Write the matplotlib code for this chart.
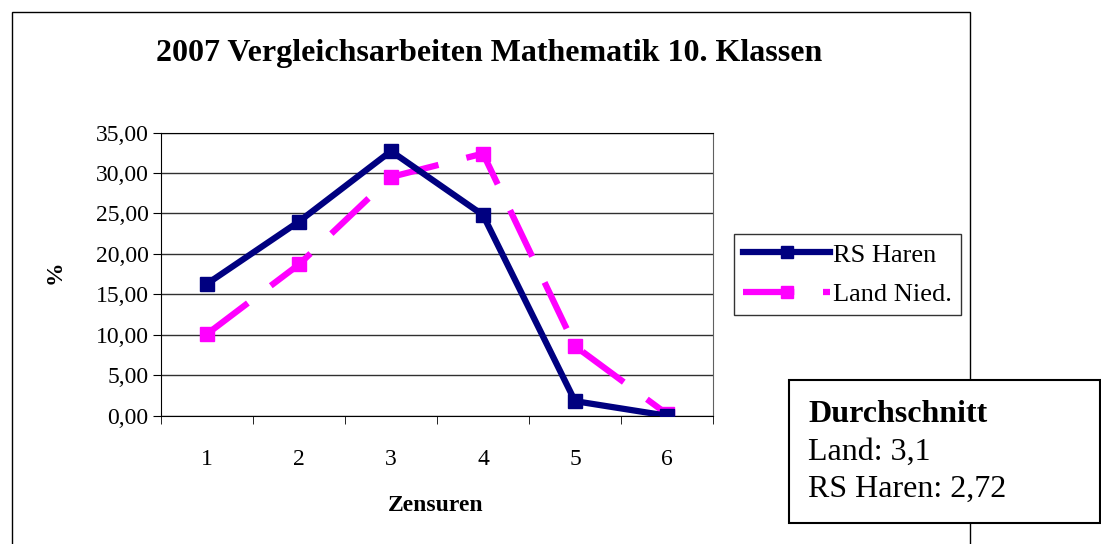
import matplotlib
matplotlib.use("Agg")
import matplotlib.pyplot as plt
from matplotlib.patches import Rectangle
from matplotlib.ticker import FuncFormatter

plt.rcParams["font.family"] = ["Liberation Serif", "DejaVu Serif"]

grades = [1, 2, 3, 4, 5, 6]
rs_haren = [16.3, 24.0, 32.7, 24.8, 1.8, 0.0]
land_nied = [10.1, 18.7, 29.5, 32.4, 8.6, 0.2]
yticks = [0, 5, 10, 15, 20, 25, 30, 35]

fig = plt.figure(figsize=(11.01, 5.44), dpi=100)

# outer chart frame
fig.patches.append(Rectangle((12 / 1101, -0.01), (970 - 12) / 1101, 1 - 12 / 544 + 0.01,
                             transform=fig.transFigure, fill=False, lw=1, ec="black"))

ax = fig.add_axes([161 / 1101, 1 - 415.7 / 544, (713 - 161) / 1101, (415.7 - 132.5) / 544])

navy = "#000080"
magenta = "#FF00FF"
ax.plot(grades, rs_haren, color=navy, lw=4.5, marker="s", ms=10, zorder=3,
        solid_joinstyle="miter", label="RS Haren")
ax.plot(grades, land_nied, color=magenta, lw=4.5, marker="s", ms=10, zorder=2,
        dashes=(8.2, 4.6), dash_capstyle="butt", label="Land Nied.")

ax.set_xlim(0.5, 6.5)
ax.set_ylim(0, 35)
ax.set_yticks(yticks)
ax.yaxis.set_major_formatter(FuncFormatter(lambda v, p: f"{v:.2f}".replace(".", ",")))
ax.set_xticks(grades)
ax.set_xticks([0.5 + i for i in range(7)], minor=True)
ax.tick_params(axis="x", which="major", length=0, labelsize=17, pad=24)
ax.tick_params(axis="x", which="minor", length=6, direction="out")
ax.tick_params(axis="y", length=6, direction="out", labelsize=17, pad=3)
ax.yaxis.grid(True, color="#303030", lw=1)
ax.set_axisbelow(True)
ax.spines["right"].set_color("#606060")

ax.set_xlabel("Zensuren", fontsize=17, fontweight="bold", va="center")
ax.xaxis.set_label_coords(0.498, -0.318)
ax.set_ylabel("%", fontsize=17, fontweight="bold", va="center")
ax.yaxis.set_label_coords(-0.192, 0.507)
fig.text(489 / 1101, 1 - 53 / 544, "2007 Vergleichsarbeiten Mathematik 10. Klassen",
         ha="center", va="center", fontsize=23, fontweight="bold")

leg = fig.legend(loc="upper left", bbox_to_anchor=(734 / 1101, 1 - 234 / 544),
                 fontsize=19, frameon=True, fancybox=False, edgecolor="black",
                 handlelength=3.3, borderpad=0.35, borderaxespad=0, handletextpad=0.1,
                 labelspacing=0.6, markerscale=0.9)
leg.get_frame().set_linewidth(1)

# Durchschnitt box
fig.patches.append(Rectangle((789 / 1101, 1 - 523 / 544), (1100 - 789) / 1101, (523 - 380) / 544,
                             transform=fig.transFigure, fc="white", ec="black", lw=1.5, zorder=5))
fig.text(808 / 1101, 1 - 414 / 544, "Durchschnitt", fontsize=23, fontweight="bold",
         va="center", zorder=6)
fig.text(808 / 1101, 1 - 452 / 544, "Land: 3,1", fontsize=23, va="center", zorder=6)
fig.text(808 / 1101, 1 - 489 / 544, "RS Haren: 2,72", fontsize=23, va="center", zorder=6)

fig.savefig("out.png", dpi=100)
